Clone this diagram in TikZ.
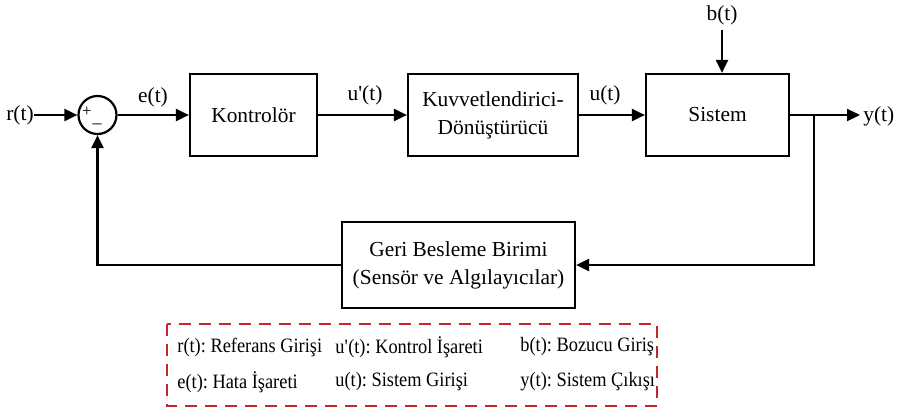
\documentclass[tikz,border=0pt]{standalone}
\usepackage{fontspec}
\setmainfont{Liberation Serif}
\newfontfamily\darfont[FakeStretch=0.9]{Liberation Serif}
\usetikzlibrary{arrows.meta}
\definecolor{cizgikirmizi}{RGB}{192,40,45}
\frenchspacing

\begin{document}
\begin{tikzpicture}[x=0.5pt, y=-0.5pt,
		blok/.style={draw, line width=1.1pt, minimum height=41pt, align=center, inner sep=0pt,
			font=\fontsize{10.7}{14}\selectfont},
		toplam/.style={draw, circle, line width=1.1pt, minimum size=19pt, inner sep=0pt},
		ok/.style={line width=1.1pt, -{Triangle[length=6.5pt,width=6pt]}},
		etiket/.style={inner sep=0pt, font=\fontsize{10.7}{13}\selectfont},
		aciklama/.style={anchor=west, inner sep=0pt, font=\darfont\fontsize{10.2}{12}\selectfont}]
		
		\useasboundingbox (0,0) rectangle (898,407);
		
		\node[etiket] (r) at (20,115) {r(t)};
		\node[toplam] (top) at (97.5,115) {};
		\node[inner sep=0pt, font=\fontsize{8.5}{9}\selectfont] (arti) at (87,112) {+};
		\node[inner sep=0pt, font=\fontsize{9}{10}\selectfont] (eksi) at (97,124) {\_};
		\node[blok, minimum width=63.5pt] (kontrol) at (253.5,115) {Kontrolör};
		\node[blok, minimum width=85pt] (kuvvet) at (493,115) {Kuvvetlendirici-\\Dönüştürücü};
		\node[blok, minimum width=71.5pt] (sistem) at (717.5,115) {Sistem};
		\node[blok, minimum width=116.5pt, minimum height=43pt] (geri) at (458.5,265) {Geri Besleme Birimi\\(Sensör ve Algılayıcılar)};
		
		\node[etiket] (e) at (153,97) {e(t)};
		\node[etiket] (uu) at (365,95) {u\textquotesingle(t)};
		\node[etiket] (u) at (605,95) {u(t)};
		\node[etiket] (b) at (722,15) {b(t)};
		\node[etiket, anchor=west] (y) at (863,116) {y(t)};
		
		\coordinate (bozucu) at (722,30);
		\coordinate (dal) at (814,115);
		\coordinate (cikis) at (860,115);
		
		\draw[ok] (r) -- (top);
		\draw[ok] (top) -- (kontrol);
		\draw[ok] (kontrol) -- (kuvvet);
		\draw[ok] (kuvvet) -- (sistem);
		\draw[ok] (bozucu) -- (bozucu |- sistem.north);
		\draw[ok] (sistem.east) -- (cikis);
		\draw[ok] (dal) |- (geri.east);
		\draw[ok] (geri.west) -| (top.south);
		
		\draw[cizgikirmizi, line width=0.8pt, dash pattern=on 6pt off 4pt] (167,324) rectangle (657,406);
		
		\node[aciklama] (a1) at (177,347) {r(t): Referans Girişi};
		\node[aciklama] (a2) at (335,347) {u\textquotesingle(t): Kontrol İşareti};
		\node[aciklama] (a3) at (520,347) {b(t): Bozucu Giriş};
		\node[aciklama] (a4) at (177,382) {e(t): Hata İşareti};
		\node[aciklama] (a5) at (335,382) {u(t): Sistem Girişi};
		\node[aciklama] (a6) at (520,382) {y(t): Sistem Çıkışı};
	\end{tikzpicture}
\end{document}
